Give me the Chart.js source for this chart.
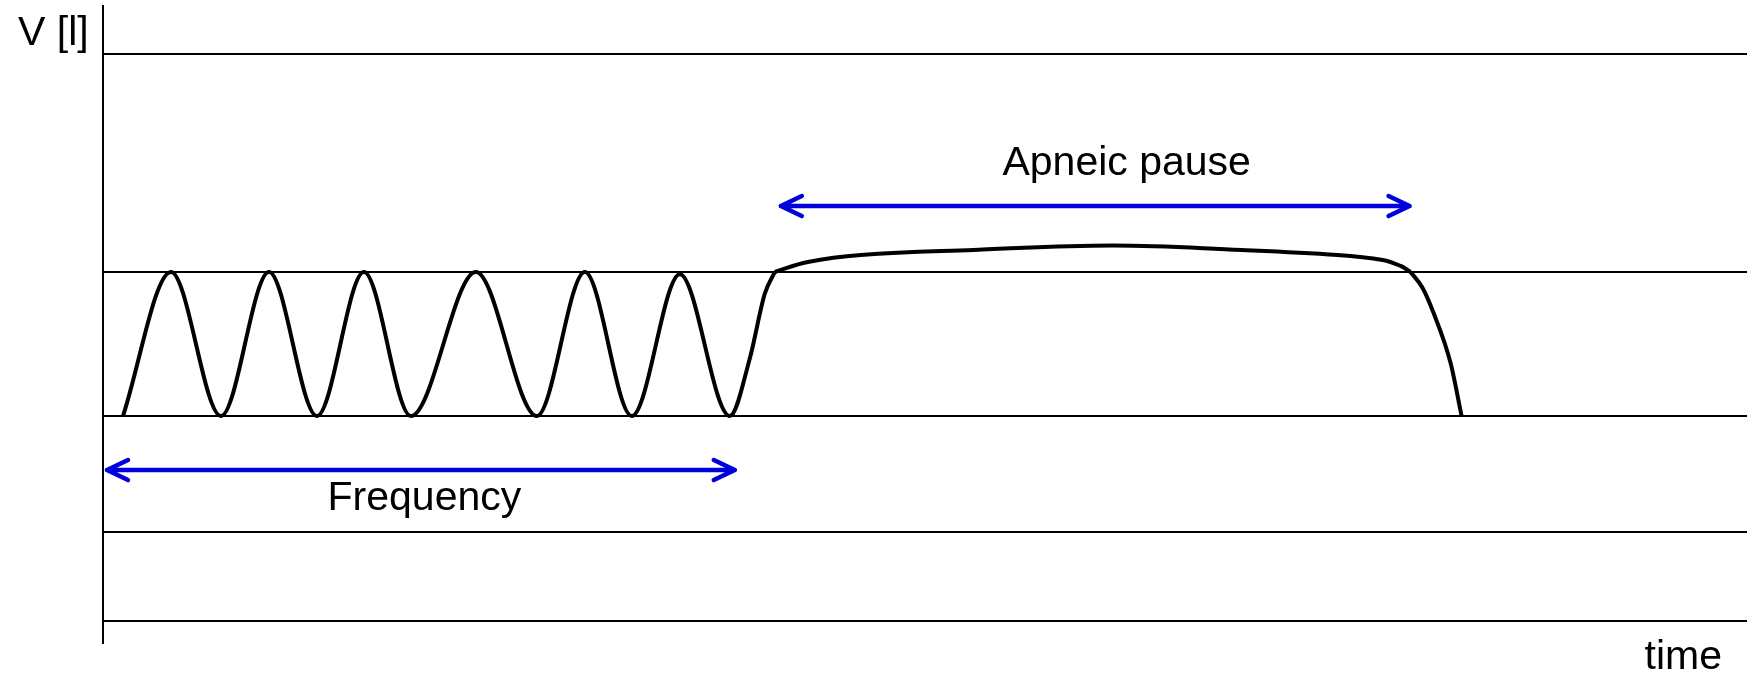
<!DOCTYPE html>
<html lang="en">
<head>
    <meta charset="UTF-8">
    <title>Breathing volume - apneic pause</title>
    <script src="https://cdn.jsdelivr.net/npm/chart.js"></script>
    <style>
      body { margin: 0; background: #fff; }
      #wrap { width: 1747px; height: 675px; }
    </style>
</head>
<body>
    <div id="wrap"><canvas id="myChart"></canvas></div>

    <script>
        // volume curve, time in arbitrary units, volume relative to tidal volume (0 = end expiration)
        const timeBreath = [0.20, 0.68, 1.18, 1.66, 2.14, 2.61, 3.08, 3.73, 4.34, 4.82, 5.29, 5.77, 6.27, 6.47, 6.62, 6.72];
        const volBreath  = [0,    1,    0,    1,    0,    1,    0,    1,    0,    1,    0,    0.985, 0,   0.4,  0.85, 1];

        const timePause = [6.72, 7.05, 7.58, 8.71, 10.10, 11.39, 12.35, 12.80, 12.98, 13.08];
        const volPause  = [1,    1.07, 1.118, 1.153, 1.184, 1.153, 1.118, 1.083, 1.042, 1];

        const timeFall = [13.08, 13.20, 13.31, 13.48, 13.59];
        const volFall  = [1,     0.889, 0.715, 0.368, 0];

        // horizontal reference lines
        const gridLevels = [2.517, 1, 0, -0.802, -1.421];

        // arrows: [from, to, level]
        const freqArrow = [0.04, 6.32, -0.375];
        const pauseArrow = [6.78, 13.07, 1.458];

        const FONT = '41px "Liberation Sans", Arial, sans-serif';

        const toPoints = (xs, ys) => xs.map((x, i) => ({x: x, y: ys[i]}));

        // arrows and labels
        const notesPlugin = {
            id: 'notesPlugin',
            afterDatasetsDraw(chart) {
                const {ctx, chartArea, scales: {x, y}} = chart;

                function arrow(a) {
                    const x1 = x.getPixelForValue(a[0]);
                    const x2 = x.getPixelForValue(a[1]);
                    const yy = y.getPixelForValue(a[2]);
                    ctx.save();
                    ctx.strokeStyle = 'rgb(0, 0, 220)';
                    ctx.lineWidth = 4.5;
                    ctx.lineCap = 'round';
                    ctx.lineJoin = 'round';
                    ctx.beginPath();
                    ctx.moveTo(x1, yy);
                    ctx.lineTo(x2, yy);
                    ctx.moveTo(x1 + 21, yy - 10);
                    ctx.lineTo(x1, yy);
                    ctx.lineTo(x1 + 21, yy + 10);
                    ctx.moveTo(x2 - 21, yy - 10);
                    ctx.lineTo(x2, yy);
                    ctx.lineTo(x2 - 21, yy + 10);
                    ctx.stroke();
                    ctx.restore();
                }
                arrow(freqArrow);
                arrow(pauseArrow);

                ctx.save();
                ctx.font = FONT;
                ctx.fillStyle = '#000';
                ctx.textBaseline = 'alphabetic';
                ctx.textAlign = 'center';
                ctx.fillText('Apneic pause', x.getPixelForValue(10.24), y.getPixelForValue(1.674));
                ctx.fillText('Frequency', x.getPixelForValue(3.215), y.getPixelForValue(-0.653));
                ctx.textAlign = 'left';
                ctx.fillText('V [l]', chartArea.left - 85, 45);
                ctx.textAlign = 'right';
                ctx.fillText('time', chart.width - 25, chart.height - 6);
                ctx.restore();
            }
        };

        const lineStyle = {
            borderColor: '#000',
            borderWidth: 4,
            pointRadius: 0,
            fill: false
        };

        const config = {
            type: 'line',
            data: {
                datasets: [
                    Object.assign({label: 'breathing', data: toPoints(timeBreath, volBreath), cubicInterpolationMode: 'monotone'}, lineStyle),
                    Object.assign({label: 'pause', data: toPoints(timePause, volPause), tension: 0.4}, lineStyle),
                    Object.assign({label: 'fall', data: toPoints(timeFall, volFall), cubicInterpolationMode: 'monotone'}, lineStyle)
                ]
            },
            options: {
                responsive: true,
                maintainAspectRatio: false,
                animation: false,
                layout: {
                    padding: {top: 6, right: 0, bottom: 32, left: 0}
                },
                plugins: {
                    legend: { display: false },
                    tooltip: { enabled: false }
                },
                scales: {
                    x: {
                        type: 'linear',
                        min: 0,
                        max: 16.445,
                        display: false
                    },
                    y: {
                        min: -1.576,
                        max: 2.847,
                        afterBuildTicks(scale) {
                            scale.ticks = gridLevels.map(v => ({value: v}));
                        },
                        afterFit(scale) {
                            scale.width = 103;
                        },
                        ticks: { display: false },
                        grid: {
                            color: '#000',
                            lineWidth: 2,
                            drawTicks: false
                        },
                        border: {
                            display: true,
                            color: '#000',
                            width: 2
                        }
                    }
                }
            },
            plugins: [notesPlugin]
        };

        const ctx = document.getElementById('myChart').getContext('2d');
        new Chart(ctx, config);
    </script>
</body>
</html>
